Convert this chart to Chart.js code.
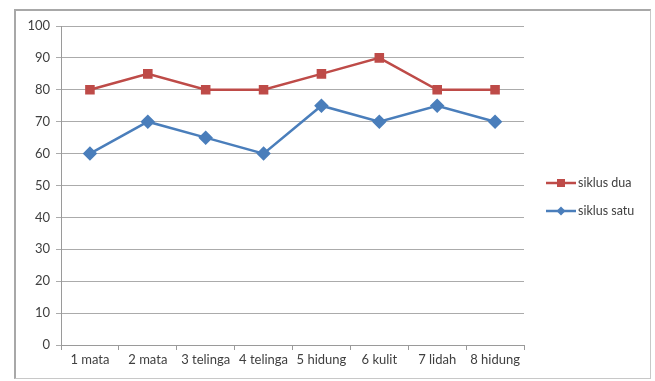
<!DOCTYPE html>
<html>
<head>
<meta charset="utf-8">
<script src="https://cdn.jsdelivr.net/npm/chart.js@4"></script>
<style>
  html, body { margin: 0; padding: 0; background: #fff; }
  #wrap { position: relative; width: 655px; height: 381px; }
  #frame { position: absolute; left: 14px; top: 9px; width: 634px; height: 367px;
           border: 1px solid #c8c8c8; border-top: 2px solid #a8a8a8; border-left: 2px solid #a8a8a8; }
  canvas { position: absolute; left: 0; top: 0; }
</style>
</head>
<body>
<div id="wrap">
  <div id="frame"></div>
  <canvas id="lineChart" width="655" height="381"></canvas>
</div>
<script>
const categories = ['1 mata', '2 mata', '3 telinga', '4 telinga', '5 hidung', '6 kulit', '7 lidah', '8 hidung'];
const siklusDua = [80, 85, 80, 80, 85, 90, 80, 80];
const siklusSatu = [60, 70, 65, 60, 75, 70, 75, 70];
const yTicks = [0, 10, 20, 30, 40, 50, 60, 70, 80, 90, 100];

const RED = '#BE4B48';
const BLUE = '#4A7EBB';
const FONT = 'Lato, "Open Sans", sans-serif';

// Excel style legend: line with marker, then label
const sideLegend = {
    id: 'sideLegend',
    afterDraw(chart) {
        const ctx = chart.ctx;
        const x0 = 546, y0 = 183, gap = 28;
        ctx.save();
        chart.data.datasets.forEach((ds, i) => {
            const y = y0 + i * gap;
            ctx.strokeStyle = ds.borderColor;
            ctx.lineWidth = 2.5;
            ctx.beginPath();
            ctx.moveTo(x0, y);
            ctx.lineTo(x0 + 30, y);
            ctx.stroke();
            ctx.fillStyle = ds.borderColor;
            const cx = x0 + 15;
            if (ds.pointStyle === 'rect') {
                ctx.fillRect(cx - 4, y - 4, 8, 8);
            } else {
                ctx.beginPath();
                ctx.moveTo(cx, y - 4.5);
                ctx.lineTo(cx + 4.5, y);
                ctx.lineTo(cx, y + 4.5);
                ctx.lineTo(cx - 4.5, y);
                ctx.closePath();
                ctx.fill();
            }
            ctx.fillStyle = '#404040';
            ctx.font = '12.5px ' + FONT;
            ctx.textBaseline = 'middle';
            ctx.fillText(ds.label, x0 + 32, y);
        });
        ctx.restore();
    }
};

const ctx = document.getElementById('lineChart').getContext('2d');
new Chart(ctx, {
    type: 'line',
    data: {
        labels: categories,
        datasets: [{
            label: 'siklus dua',
            data: siklusDua,
            borderColor: RED,
            backgroundColor: RED,
            borderWidth: 2.5,
            pointStyle: 'rect',
            pointRadius: 5,
            pointHoverRadius: 5,
            tension: 0
        }, {
            label: 'siklus satu',
            data: siklusSatu,
            borderColor: BLUE,
            backgroundColor: BLUE,
            borderWidth: 2.5,
            pointStyle: 'rectRot',
            pointRadius: 5.5,
            pointHoverRadius: 5.5,
            tension: 0
        }]
    },
    options: {
        responsive: false,
        animation: false,
        layout: {
            padding: { left: 15, top: 26, right: 131, bottom: 8 }
        },
        plugins: {
            legend: { display: false },
            tooltip: { enabled: false }
        },
        scales: {
            x: {
                offset: true,
                afterFit(scale) { scale.height = 28; },
                grid: {
                    offset: true,
                    drawOnChartArea: false,
                    drawTicks: true,
                    tickLength: 5,
                    color: '#9a9a9a'
                },
                border: { color: '#9a9a9a', width: 1 },
                ticks: {
                    color: '#404040',
                    font: { family: FONT, size: 13 },
                    maxRotation: 0,
                    autoSkip: false,
                    padding: 2
                }
            },
            y: {
                min: 0,
                max: 100,
                afterFit(scale) { scale.width = 46; },
                afterBuildTicks(scale) {
                    scale.ticks = yTicks.map(v => ({ value: v }));
                },
                grid: {
                    color: '#ababab',
                    tickLength: 5,
                    drawTicks: true
                },
                border: { color: '#9a9a9a', width: 1 },
                ticks: {
                    color: '#404040',
                    font: { family: FONT, size: 13 },
                    padding: 6
                }
            }
        }
    },
    plugins: [sideLegend]
});
</script>
</body>
</html>
